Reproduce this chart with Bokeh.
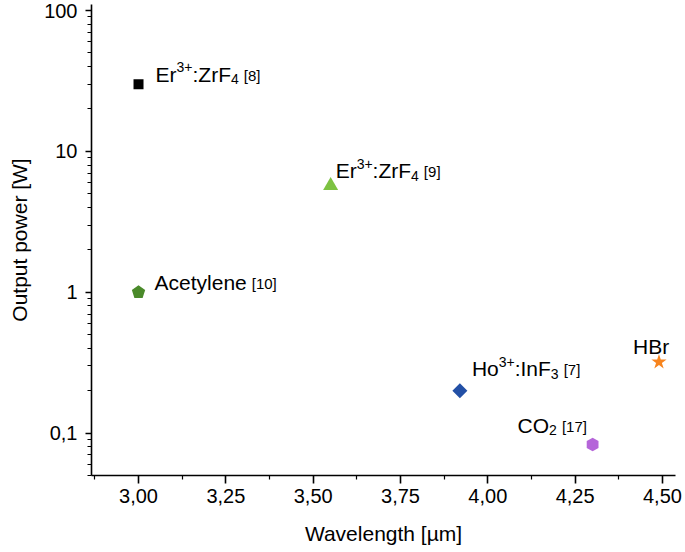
import numpy as np
from bokeh.plotting import figure
from bokeh.models import FixedTicker, CustomJSTickFormatter, ColumnDataSource, Range1d
from bokeh.core.properties import value
from bokeh.embed import file_html
from bokeh.resources import INLINE

# ---------------- data ----------------
sources = ["Er:ZrF4 [8]", "Er:ZrF4 [9]", "Acetylene [10]", "Ho:InF3 [7]", "CO2 [17]", "HBr"]
wavelength_um = [3.00, 3.55, 3.00, 3.92, 4.30, 4.49]
output_power_w = [30.0, 5.7, 1.0, 0.2, 0.083, 0.32]

x_ticks = [3.00, 3.25, 3.50, 3.75, 4.00, 4.25, 4.50]
x_tick_labels = ["3,00", "3,25", "3,50", "3,75", "4,00", "4,25", "4,50"]
y_ticks = [0.1, 1, 10, 100]
y_tick_labels = ["0,1", "1", "10", "100"]
x_title = "Wavelength [µm]"
y_title = "Output power [W]"

# label pieces: (text, kind) kind: n=normal, sup, sub, ref
label_parts = [
    [("Er", "n"), ("3+", "sup"), (":ZrF", "n"), ("4", "sub"), ("[8]", "ref")],
    [("Er", "n"), ("3+", "sup"), (":ZrF", "n"), ("4", "sub"), ("[9]", "ref")],
    [("Acetylene", "n"), ("[10]", "ref")],
    [("Ho", "n"), ("3+", "sup"), (":InF", "n"), ("3", "sub"), ("[7]", "ref")],
    [("CO", "n"), ("2", "sub"), ("[17]", "ref")],
    [("HBr", "n")],
]

# ---------------- styles ----------------
FONT = "Liberation Sans"
marker_kind = ["square", "triangle", "pentagon", "diamond", "hexagon", "star"]
marker_color = ["#000000", "#7dc242", "#4a8a2a", "#2350a6", "#b565d9", "#f7841e"]
label_dx = [17, 5, 16, 12, -75, -26]
label_dy = [-10, -15, -10, -22, -19, -15]

kind_size = {"n": 21, "sup": 14, "sub": 14, "ref": 15}
kind_shift = {"n": 0, "sup": -7, "sub": 5, "ref": 1}
kind_gap = {"n": 0, "sup": 0, "sub": 0, "ref": 5}

# Arial / Liberation Sans advance widths (em)
ADV = {"E": .667, "r": .333, "3": .556, "+": .584, ":": .278, "Z": .611, "F": .611,
       "4": .556, " ": .278, "[": .278, "]": .278, "8": .556, "9": .556, "1": .556,
       "0": .556, "7": .556, "A": .667, "c": .5, "e": .556, "t": .278, "y": .5,
       "l": .222, "n": .556, "H": .722, "o": .556, "I": .278, "C": .722, "O": .778,
       "2": .556, "B": .667}


def text_width(s, size):
    return sum(ADV.get(ch, 0.556) for ch in s) * size


X0, X1 = 2.8654, 4.5373
p = figure(width=683, height=550, output_backend="svg", toolbar_location=None,
           y_axis_type="log",
           x_range=Range1d(X0, X1), y_range=Range1d(0.05, 110.3),
           min_border_left=91, min_border_right=8, min_border_top=4,
           min_border_bottom=75)
p.outline_line_color = None
p.xgrid.visible = False
p.ygrid.visible = False
p.background_fill_color = "white"
p.border_fill_color = "white"

# ---- markers ----
for kind, color, xv, yv in zip(marker_kind, marker_color, wavelength_um, output_power_w):
    src = ColumnDataSource(dict(x=[xv], y=[yv]))
    if kind == "square":
        p.scatter("x", "y", source=src, marker="square", size=10, fill_color=color, line_color=None)
    elif kind == "triangle":
        p.scatter("x", "y", source=src, marker="triangle", size=15, fill_color=color, line_color=None)
    elif kind == "star":
        p.scatter("x", "y", source=src, marker="star", size=16, fill_color=color, line_color=None)
    elif kind == "pentagon":
        p.ngon("x", "y", radius=7, radius_units="screen", n=5, angle=0,
               source=src, fill_color=color, line_color=None)
    elif kind == "diamond":
        p.ngon("x", "y", radius=7.5, radius_units="screen", n=4, angle=0,
               source=src, fill_color=color, line_color=None)
    elif kind == "hexagon":
        p.ngon("x", "y", radius=6.8, radius_units="screen", n=6, angle=0,
               source=src, fill_color=color, line_color=None)

# ---- labels ----
tx, ty, tt, txo, tyo, tfs = [], [], [], [], [], []
for i, parts in enumerate(label_parts):
    cursor = 0.0
    for text, kind in parts:
        size = kind_size[kind]
        cursor += kind_gap[kind]
        tx.append(wavelength_um[i])
        ty.append(output_power_w[i])
        tt.append(text)
        txo.append(label_dx[i] + cursor)
        tyo.append(label_dy[i] + kind_shift[kind])
        tfs.append(f"{size}px")
        cursor += text_width(text, size)
lab = ColumnDataSource(dict(x=tx, y=ty, text=tt, xo=txo, yo=tyo, fs=tfs))
p.text("x", "y", text="text", source=lab, x_offset="xo", y_offset="yo",
       text_font=value(FONT), text_font_size="fs", text_color="black",
       text_align="left", text_baseline="alphabetic")

# ---- axes ----
x_minor = [t + 0.125 for t in [2.75] + x_ticks]
y_minor = [k * 10.0 ** e for e in range(-2, 3) for k in range(2, 10)]
p.xaxis.ticker = FixedTicker(ticks=x_ticks, minor_ticks=x_minor)
p.yaxis.ticker = FixedTicker(ticks=y_ticks, minor_ticks=y_minor)
p.xaxis.formatter = CustomJSTickFormatter(
    args=dict(t=x_ticks, l=x_tick_labels),
    code="for (let i=0;i<t.length;i++){ if (Math.abs(t[i]-tick)<1e-6) return l[i]; } return '';")
p.yaxis.formatter = CustomJSTickFormatter(
    args=dict(t=y_ticks, l=y_tick_labels),
    code="for (let i=0;i<t.length;i++){ if (Math.abs(t[i]-tick)/t[i]<1e-6) return l[i]; } return '';")

p.xaxis.axis_label = x_title
p.yaxis.axis_label = y_title
for ax in (p.xaxis, p.yaxis):
    ax.axis_label_text_font = FONT
    ax.axis_label_text_font_style = "normal"
    ax.axis_label_text_font_size = "21px"
    ax.axis_label_text_color = "black"
    ax.major_label_text_font = FONT
    ax.major_label_text_font_size = "20px"
    ax.major_label_text_color = "black"
    ax.axis_line_color = "black"
    ax.axis_line_width = 1.6
    ax.major_tick_line_color = "black"
    ax.major_tick_line_width = 1.6
    ax.minor_tick_line_color = "black"
    ax.minor_tick_line_width = 1.2
    ax.major_tick_in = 0
    ax.minor_tick_in = 0
p.xaxis.major_tick_out = 8
p.xaxis.minor_tick_out = 4
p.yaxis.major_tick_out = 6
p.yaxis.minor_tick_out = 4
p.xaxis.major_label_standoff = 5
p.yaxis.major_label_standoff = 8
p.xaxis.axis_label_standoff = 16
p.yaxis.axis_label_standoff = 10

open("out.html", "w").write(file_html(p, INLINE))
